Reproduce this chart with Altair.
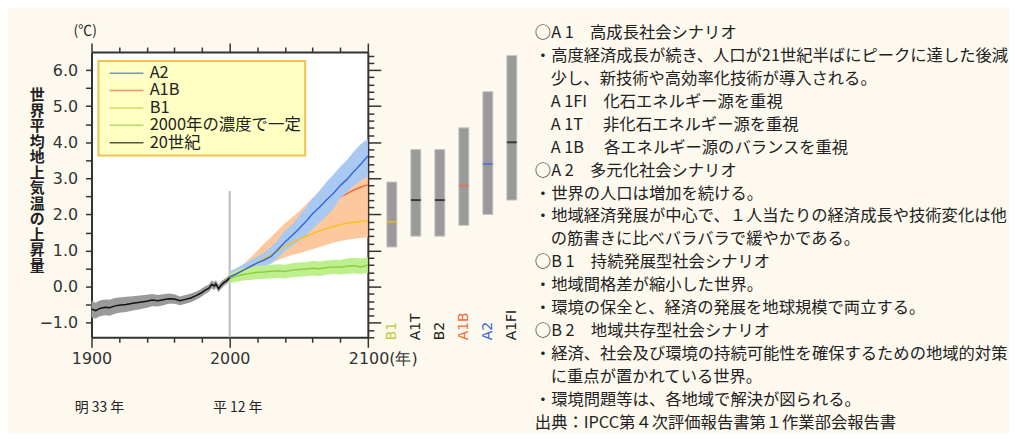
import altair as alt
import pandas as pd

CREAM = "#fdf9ee"
JP = "Noto Sans CJK JP"
NUM = "DejaVu Sans"

Y_MIN, Y_MAX = -1.4, 6.5
X_MIN, X_MAX = 1900, 2100

# ---------------- 20th century ----------------
hist_years = [1900, 1903, 1906, 1910, 1913, 1917, 1920, 1925, 1930, 1935, 1940, 1944, 1948, 1952,
              1956, 1960, 1964, 1968, 1972, 1976, 1979, 1982, 1985, 1987, 1989, 1990, 1992, 1994,
              1996, 1998, 2000]
hist_mean = [-0.62, -0.66, -0.60, -0.57, -0.58, -0.53, -0.51, -0.49, -0.46, -0.43, -0.40, -0.37, -0.39,
             -0.36, -0.33, -0.34, -0.39, -0.35, -0.31, -0.24, -0.18, -0.10, -0.04, 0.06, 0.02, 0.08,
             -0.05, 0.05, 0.12, 0.17, 0.25]
hist_low = [-0.85, -0.88, -0.82, -0.79, -0.80, -0.75, -0.72, -0.70, -0.66, -0.62, -0.58, -0.54, -0.55,
            -0.51, -0.47, -0.47, -0.51, -0.47, -0.43, -0.35, -0.29, -0.21, -0.14, -0.05, -0.09, -0.03,
            -0.15, -0.05, 0.03, 0.08, 0.17]
hist_high = [-0.39, -0.44, -0.38, -0.35, -0.36, -0.31, -0.30, -0.28, -0.26, -0.24, -0.22, -0.20, -0.23,
             -0.21, -0.19, -0.21, -0.27, -0.23, -0.19, -0.13, -0.07, 0.01, 0.06, 0.17, 0.13, 0.19,
             0.05, 0.15, 0.21, 0.26, 0.33]

# ---------------- 21st century projections ----------------
future_years = [2000, 2005, 2010, 2015, 2020, 2025, 2030, 2035, 2040, 2045, 2050,
                2055, 2060, 2065, 2070, 2075, 2080, 2085, 2090, 2095, 2100]
a2_mean = [0.27, 0.36, 0.46, 0.56, 0.66, 0.74, 0.84, 1.03, 1.24, 1.41, 1.60,
           1.80, 2.02, 2.20, 2.40, 2.58, 2.80, 2.98, 3.20, 3.40, 3.62]
a2_low = [0.13, 0.22, 0.32, 0.41, 0.50, 0.56, 0.64, 0.80, 0.98, 1.12, 1.26,
          1.42, 1.60, 1.78, 1.96, 2.15, 2.45, 2.62, 2.80, 2.95, 3.05]
a2_high = [0.42, 0.52, 0.62, 0.73, 0.84, 0.95, 1.10, 1.30, 1.55, 1.72, 1.95,
           2.18, 2.45, 2.66, 2.90, 3.10, 3.32, 3.52, 3.75, 3.95, 4.10]

a1b_mean = [0.26, 0.38, 0.50, 0.64, 0.78, 0.92, 1.05, 1.18, 1.32, 1.47, 1.62,
            1.77, 1.92, 2.06, 2.20, 2.34, 2.48, 2.58, 2.68, 2.76, 2.82]
a1b_low = [0.14, 0.24, 0.34, 0.45, 0.55, 0.65, 0.75, 0.85, 0.95, 1.07, 1.20,
           1.32, 1.45, 1.57, 1.70, 1.83, 1.95, 2.05, 2.15, 2.20, 2.25]
a1b_high = [0.40, 0.50, 0.62, 0.80, 1.00, 1.20, 1.38, 1.57, 1.75, 1.92, 2.08,
            2.27, 2.45, 2.60, 2.75, 2.86, 2.95, 3.02, 3.08, 3.12, 3.15]

b1_mean = [0.26, 0.36, 0.46, 0.56, 0.66, 0.77, 0.88, 1.00, 1.12, 1.22, 1.31,
           1.39, 1.47, 1.54, 1.61, 1.67, 1.72, 1.76, 1.79, 1.81, 1.83]
b1_low = [0.12, 0.24, 0.34, 0.42, 0.50, 0.58, 0.66, 0.74, 0.81, 0.88, 0.93,
          0.98, 1.04, 1.10, 1.16, 1.22, 1.27, 1.30, 1.33, 1.35, 1.37]
b1_high = [0.38, 0.48, 0.58, 0.70, 0.82, 0.96, 1.10, 1.25, 1.40, 1.54, 1.66,
           1.78, 1.88, 1.98, 2.06, 2.12, 2.18, 2.22, 2.26, 2.28, 2.30]

commit_mean = [0.22, 0.30, 0.34, 0.37, 0.40, 0.41, 0.43, 0.44, 0.42, 0.46, 0.48,
               0.49, 0.51, 0.50, 0.53, 0.55, 0.54, 0.57, 0.58, 0.55, 0.60]
commit_low = [0.10, 0.14, 0.17, 0.19, 0.21, 0.22, 0.23, 0.24, 0.23, 0.26, 0.28,
              0.29, 0.31, 0.30, 0.33, 0.35, 0.34, 0.36, 0.37, 0.35, 0.38]
commit_high = [0.34, 0.46, 0.52, 0.55, 0.58, 0.59, 0.61, 0.62, 0.61, 0.65, 0.67,
               0.68, 0.71, 0.70, 0.73, 0.75, 0.74, 0.78, 0.80, 0.78, 0.82]

# vertical marker at the year 2000
marker_year = [2000]
marker_top = [2.65]

# legend series
series_names = ["A2", "A1B", "B1", "2000年の濃度で一定", "20世紀"]
series_colors = ["#3a68d8", "#f26b3a", "#c9cb35", "#8dcc44", "#111111"]
b1_line_color = "#f5c21b"
band_a2 = "#a9c9f2"
band_orange = "#fdc89e"
band_green = "#bdf08c"
band_gray = "#9a9a9a"

# ---------------- ranges at 2100 ----------------
scenarios = ["B1", "A1T", "B2", "A1B", "A2", "A1FI"]
sc_best = [1.8, 2.4, 2.4, 2.8, 3.4, 4.0]
sc_low = [1.1, 1.4, 1.4, 1.7, 2.0, 2.4]
sc_high = [2.9, 3.8, 3.8, 4.4, 5.4, 6.4]
sc_label_color = ["#c9c93a", "#222222", "#222222", "#f26b3a", "#3a68d8", "#222222"]
sc_tick_color = ["#f0c030", "#111111", "#111111", "#f26b3a", "#3a68d8", "#111111"]

# ---------------- ticks ----------------
x_ticks = [1900, 1920, 1940, 1960, 1980, 2000, 2020, 2040, 2060, 2080, 2100]
y_left_ticks = [-1.0, -0.5, 0.0, 0.5, 1.0, 1.5, 2.0, 2.5, 3.0, 3.5, 4.0, 4.5, 5.0, 5.5, 6.0]
y_right_ticks = [-1.4, -1.2, -1.0, -0.8, -0.6, -0.4, -0.2, 0.0, 0.2, 0.4, 0.6, 0.8, 1.0, 1.2,
                 1.4, 1.6, 1.8, 2.0, 2.2, 2.4, 2.6, 2.8, 3.0, 3.2, 3.4, 3.6, 3.8, 4.0, 4.2,
                 4.4, 4.6, 4.8, 5.0, 5.2, 5.4, 5.6, 5.8, 6.0, 6.2, 6.4]

# ---------------- explanatory text ----------------
text_lines = [
    "○A 1　高成長社会シナリオ",
    "・高度経済成長が続き、人口が21世紀半ばにピークに達した後減",
    "少し、新技術や高効率化技術が導入される。",
    "A 1FI　化石エネルギー源を重視",
    "A 1T　 非化石エネルギー源を重視",
    "A 1B　 各エネルギー源のバランスを重視",
    "○A 2　多元化社会シナリオ",
    "・世界の人口は増加を続ける。",
    "・地域経済発展が中心で、１人当たりの経済成長や技術変化は他",
    "の筋書きに比べバラバラで緩やかである。",
    "○B 1　持続発展型社会シナリオ",
    "・地域間格差が縮小した世界。",
    "・環境の保全と、経済の発展を地球規模で両立する。",
    "○B 2　地域共存型社会シナリオ",
    "・経済、社会及び環境の持続可能性を確保するための地域的対策",
    "に重点が置かれている世界。",
    "・環境問題等は、各地域で解決が図られる。",
    "出典：IPCC第４次評価報告書第１作業部会報告書",
]
text_indent = [0, 0, 1, 1, 1, 1, 0, 0, 0, 1, 0, 0, 0, 0, 0, 1, 0, 0]

era_years = [1900, 2000]
era_labels = ["明 33 年", "平 12 年"]


# ---------------- data frames ----------------
def series_df(name, years, mean, low, high):
    return pd.DataFrame({"year": years, "mean": mean, "low": low, "high": high, "series": name})


hist_df = series_df("20世紀", hist_years, hist_mean, hist_low, hist_high)
a2_df = series_df("A2", future_years, a2_mean, a2_low, a2_high)
a1b_df = series_df("A1B", future_years, a1b_mean, a1b_low, a1b_high)
b1_df = series_df("B1", future_years, b1_mean, b1_low, b1_high)
commit_df = series_df("2000年の濃度で一定", future_years, commit_mean, commit_low, commit_high)
marker_df = pd.DataFrame({"year": marker_year, "y0": [Y_MIN], "y1": marker_top})
sc_df = pd.DataFrame({"scenario": scenarios, "best": sc_best, "low": sc_low, "high": sc_high,
                      "label_color": sc_label_color, "tick_color": sc_tick_color})
text_df = pd.DataFrame({"i": list(range(len(text_lines))), "text": text_lines, "indent": text_indent})
era_df = pd.DataFrame({"year": era_years, "label": era_labels})

# ---------------- scales & axes ----------------
x_scale = alt.Scale(domain=[X_MIN, X_MAX], nice=False, zero=False)
y_scale = alt.Scale(domain=[Y_MIN, Y_MAX], nice=False, zero=False)

major_year = "datum.value % 100 == 0"
integer_val = "abs(datum.value - round(datum.value)) < 0.01"

axis_style = dict(domainColor="#333333", domainWidth=2, tickColor="#333333", tickWidth=1.5,
                  grid=False, labelFont=NUM, labelFontSize=16, labelColor="#333333")

x_bottom = alt.Axis(orient="bottom", values=x_ticks, title=None,
                    tickSize={"condition": {"test": major_year, "value": 10}, "value": 5},
                    labelExpr="datum.value % 100 == 0 ? (datum.value == 2100 ? '2100(年)' : format(datum.value, 'd')) : ''",
                    labelOffset={"condition": {"test": "datum.value == 2100", "value": 15}, "value": 0},
                    labelPadding=3, labelOverlap=False, labelBound=False, labelFlush=False,
                    **axis_style)
x_top = alt.Axis(orient="top", values=x_ticks, title=None, labels=False,
                 tickSize={"condition": {"test": major_year, "value": 9}, "value": 5}, **axis_style)
y_left = alt.Axis(orient="left", values=y_left_ticks, title=list("世界平均地上気温の上昇量"),
                  titleAngle=0, titleAlign="center", titleBaseline="middle",
                  titleX=-55, titleY=43,
                  titleFont=JP, titleFontSize=15, titleFontWeight="bold",
                  titleLineHeight=15.6, titleColor="#222222",
                  labelExpr=f"{integer_val} ? format(datum.value, '.1f') : ''",
                  tickSize=6, labelPadding=8, labelOverlap=False, **axis_style)
y_right = alt.Axis(orient="right", values=y_right_ticks, title=None, labels=False,
                   tickSize={"condition": {"test": integer_val, "value": 13}, "value": 6}, **axis_style)

legend = alt.Legend(title=None, orient="none", legendX=7, legendY=9, padding=4,
                    fillColor="#ffffc4", strokeColor="#f2c14e",
                    symbolType="M-2.5,0H2.5", symbolSize=185, symbolStrokeWidth=1.5,
                    symbolOffset=16, labelOffset=15,
                    labelFont=JP, labelFontSize=16.5, labelColor="#222222", rowPadding=0.5)
color = alt.Color("series:N", scale=alt.Scale(domain=series_names, range=series_colors), legend=legend)

X = alt.X("year:Q", scale=x_scale, axis=None)


def band(df, fill, x_axis=None, y_axis=None):
    return alt.Chart(df).mark_area(color=fill, opacity=1).encode(
        x=alt.X("year:Q", scale=x_scale, axis=x_axis),
        y=alt.Y("low:Q", scale=y_scale, axis=y_axis),
        y2="high:Q",
    )


def line(df, stroke=None, width=1.5):
    enc = dict(x=X, y=alt.Y("mean:Q", scale=y_scale, axis=None))
    if stroke is None:
        enc["color"] = color
        return alt.Chart(df).mark_line(strokeWidth=width).encode(**enc)
    return alt.Chart(df).mark_line(strokeWidth=width, color=stroke).encode(**enc)


marker = alt.Chart(marker_df).mark_rule(color="#bbbbbb", strokeWidth=2).encode(
    x=alt.X("year:Q", scale=x_scale, axis=x_bottom),
    y=alt.Y("y0:Q", scale=y_scale, axis=y_left),
    y2="y1:Q",
)

era = alt.Chart(era_df).mark_text(font=JP, fontSize=14, color="#222222", dx=8, dy=71).encode(
    x=X, y=alt.YDatum(Y_MIN, scale=y_scale, axis=None), text="label:N")

main = alt.layer(
    marker,
    band(b1_df, band_orange),
    band(a1b_df, band_orange),
    line(a1b_df),
    band(a2_df, band_a2),
    band(commit_df, band_green),
    line(b1_df, stroke=b1_line_color),
    line(commit_df),
    line(a2_df),
    band(hist_df, band_gray, x_axis=x_top, y_axis=y_right),
    line(hist_df),
    era,
).resolve_axis(x="independent", y="independent").properties(
    width=278, height=287,
    title=alt.TitleParams("(℃)", anchor="start", frame="group", dx=-18, offset=4, font=JP,
                          fontSize=14, fontWeight="normal", color="#222222"),
    view=alt.ViewBackground(fill="white", stroke="transparent"),
)

# ---------------- range bars ----------------
x_bar = alt.X("scenario:N", scale=alt.Scale(type="point", domain=scenarios, padding=1.3), axis=None)
bars = alt.Chart(sc_df).mark_bar(size=10, color="#9a9a9a", stroke="#c6c6c6", strokeWidth=1).encode(
    x=x_bar, y=alt.Y("low:Q", scale=y_scale, axis=None), y2="high:Q")
best = alt.Chart(sc_df).mark_tick(thickness=2, size=10).encode(
    x=x_bar, y=alt.Y("best:Q", scale=y_scale, axis=None),
    color=alt.Color("tick_color:N", scale=None))
bar_labels = alt.Chart(sc_df).mark_text(angle=270, align="left", baseline="middle", dx=-3,
                                        font=NUM, fontSize=14).encode(
    x=x_bar, y=alt.YDatum(Y_MIN, scale=y_scale, axis=None), text="scenario:N",
    color=alt.Color("label_color:N", scale=None))
range_panel = alt.layer(bars, best, bar_labels).properties(
    width=169, height=287, view=alt.ViewBackground(fill="transparent", stroke="transparent"))

# ---------------- text panel ----------------
text_panel = alt.Chart(text_df).mark_text(align="left", baseline="middle", font=JP, fontSize=16.4,
                                          color="#222222").encode(
    x=alt.X("indent:Q", scale=alt.Scale(domain=[0, 1], range=[-1, 15]), axis=None),
    y=alt.Y("i:Q", scale=alt.Scale(domain=[0, len(text_lines) - 1], range=[-19, 373]), axis=None),
    text="text:N",
).properties(width=462, height=287, view=alt.ViewBackground(fill="transparent", stroke="transparent"))

chart = alt.hconcat(main, range_panel, text_panel, spacing=0, bounds="flush").properties(
    padding={"left": 20, "top": 14, "right": 0, "bottom": 0},
    background=CREAM,
).configure_legend(strokeWidth=2)

chart.save("out.html", embed_options={"renderer": "svg", "actions": False})
